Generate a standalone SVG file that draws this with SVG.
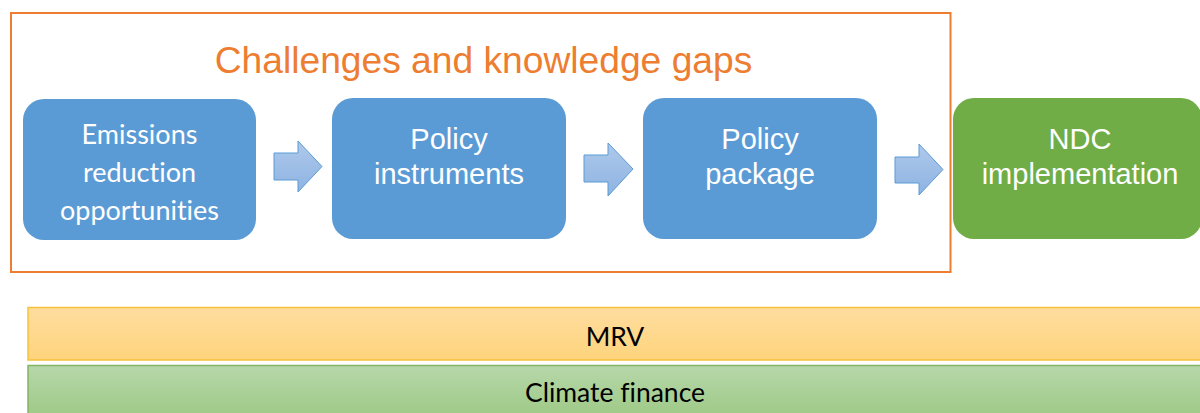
<svg xmlns="http://www.w3.org/2000/svg" width="1200" height="413" viewBox="0 0 1200 413">
<style>
.box{fill:#5B9BD5;}
.green{fill:#70AD47;}
.t{font-family:"Liberation Sans",Arial,sans-serif;font-size:29px;fill:#FFFFFF;text-anchor:middle;}
.c{font-family:Lato,"Liberation Sans",sans-serif;font-size:27px;fill:#FFFFFF;text-anchor:middle;font-variant-ligatures:none;}
.b{font-family:Lato,"Liberation Sans",sans-serif;font-size:26.5px;fill:#000000;text-anchor:middle;font-variant-ligatures:none;}
.arrow{fill:url(#ag);stroke:#5B9BD5;stroke-width:1;}
</style>
<defs>
<linearGradient id="ag" x1="0" y1="0" x2="0" y2="1">
<stop offset="0" stop-color="#AFC9EB"/>
<stop offset="1" stop-color="#8DB3E2"/>
</linearGradient>
<linearGradient id="yg" x1="0" y1="0" x2="0" y2="1">
<stop offset="0" stop-color="#FEDD9F"/>
<stop offset="1" stop-color="#FED47C"/>
</linearGradient>
<linearGradient id="gg" x1="0" y1="0" x2="0" y2="1">
<stop offset="0" stop-color="#B7D7AA"/>
<stop offset="1" stop-color="#9DC985"/>
</linearGradient>
</defs>
<rect width="1200" height="413" fill="#FFFFFF"/>

<g id="frame">
<rect x="11" y="13" width="939.5" height="259" fill="none" stroke="#ED7D31" stroke-width="2"/>
<text x="483.5" y="73" font-family="'Liberation Sans',Arial,sans-serif" font-size="37.2" fill="#ED7D31" text-anchor="middle">Challenges and knowledge gaps</text>
</g>

<g id="node-emissions">
<rect class="box" x="23" y="99" width="233" height="141" rx="21"/>
<text class="c" x="139.5" y="144">Emissions</text>
<text class="c" x="139.5" y="182">reduction</text>
<text class="c" x="139.5" y="220">opportunities</text>
</g>

<g id="node-instruments">
<rect class="box" x="332" y="98" width="234" height="141" rx="21"/>
<text class="t" x="449" y="149">Policy</text>
<text class="t" x="449" y="184">instruments</text>
</g>

<g id="node-package">
<rect class="box" x="643" y="98" width="234" height="141" rx="21"/>
<text class="t" x="760" y="149">Policy</text>
<text class="t" x="760" y="184">package</text>
</g>

<g id="node-ndc">
<rect class="green" x="953" y="98" width="249" height="141" rx="21"/>
<text class="t" x="1080" y="149">NDC</text>
<text class="t" x="1080" y="184">implementation</text>
</g>

<g id="connectors">
<polygon class="arrow" points="274,153 298,153 298,141 322,166.5 298,192 298,180 274,180"/>
<polygon class="arrow" points="584,155 608,155 608,143 633,169 608,196 608,182 584,182"/>
<polygon class="arrow" points="895,157 919,157 919,144 943,169.5 919,195 919,183 895,183"/>
</g>

<g id="bar-mrv">
<rect x="28" y="307.5" width="1176" height="52.5" fill="url(#yg)" stroke="#F7C23B" stroke-width="1.5"/>
<text class="b" x="615" y="346">MRV</text>
</g>

<g id="bar-finance">
<rect x="28" y="365.5" width="1176" height="52" fill="url(#gg)" stroke="#84B466" stroke-width="1.5"/>
<text class="b" x="615" y="402">Climate finance</text>
</g>
</svg>
